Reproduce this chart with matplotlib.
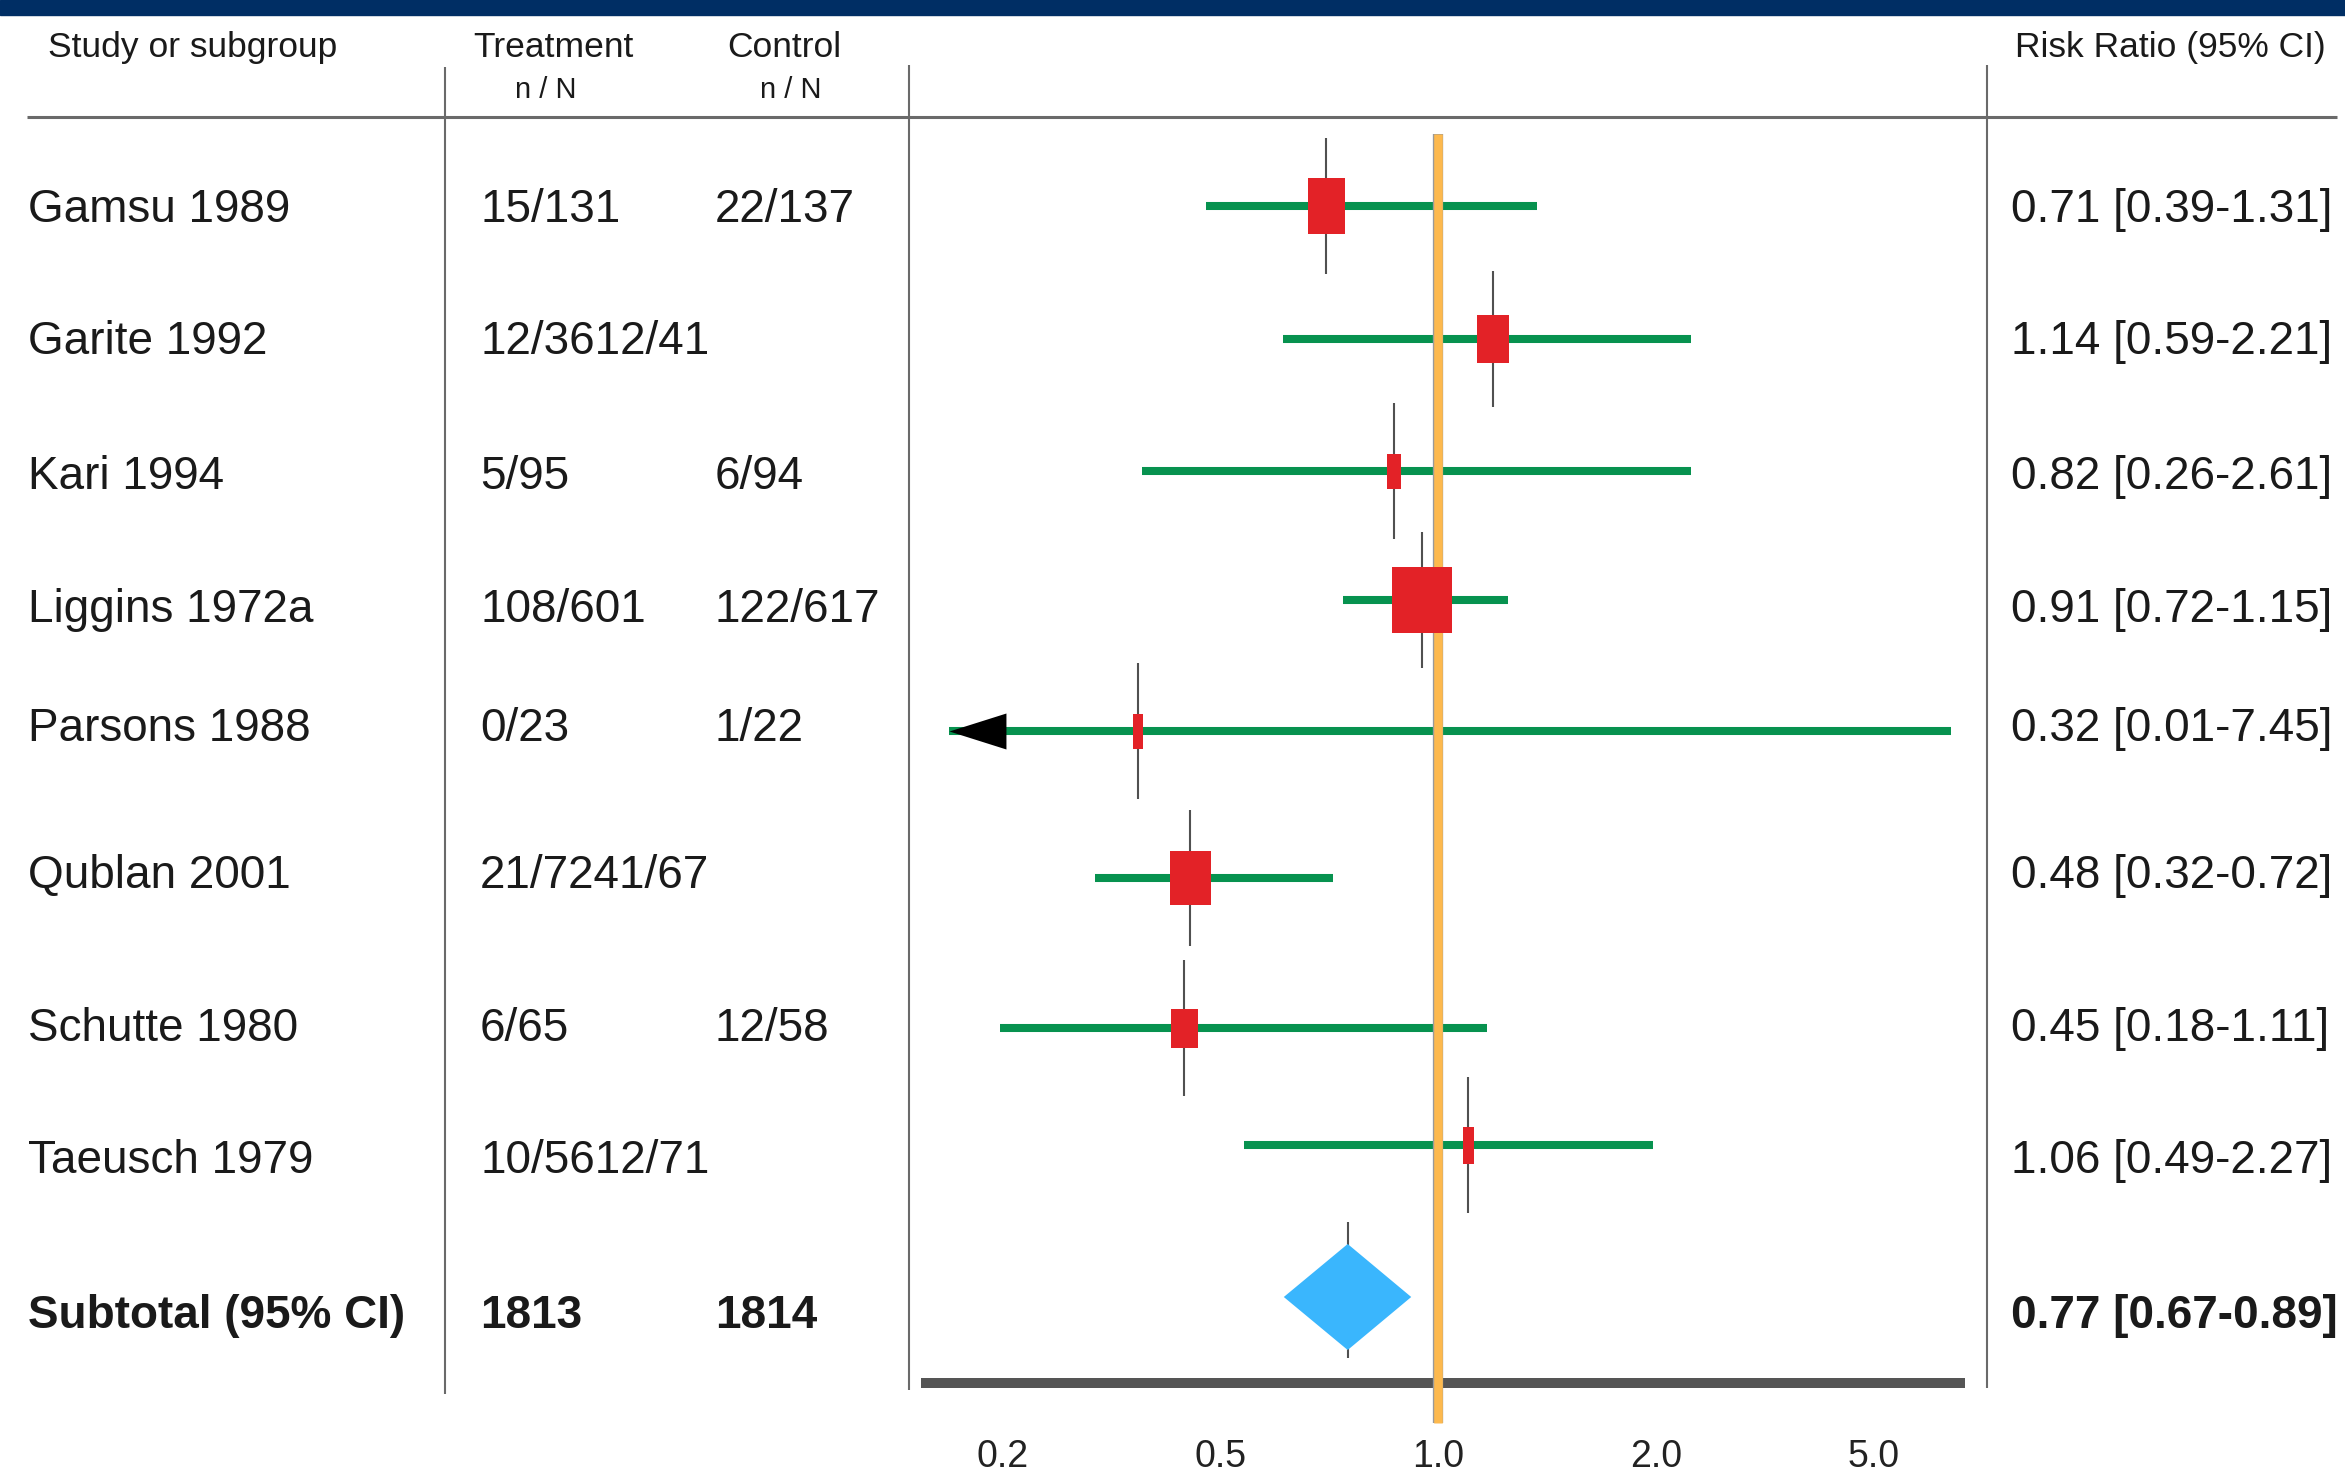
import numpy as np
import matplotlib.pyplot as plt
from matplotlib.path import Path
from matplotlib.ticker import NullLocator

plt.rcParams['font.family'] = ['Liberation Sans', 'DejaVu Sans']

# table columns
studies = ["Gamsu 1989", "Garite 1992", "Kari 1994", "Liggins 1972a",
           "Parsons 1988", "Qublan 2001", "Schutte 1980", "Taeusch 1979"]
treatment = ["15/131", "12/36", "5/95", "108/601", "0/23", "21/72", "6/65", "10/56"]
control = ["22/137", "12/41", "6/94", "122/617", "1/22", "41/67", "12/58", "12/71"]
rr_text = ["0.71 [0.39-1.31]", "1.14 [0.59-2.21]", "0.82 [0.26-2.61]",
           "0.91 [0.72-1.15]", "0.32 [0.01-7.45]", "0.48 [0.32-0.72]",
           "0.45 [0.18-1.11]", "1.06 [0.49-2.27]"]

# risk ratios as drawn on the plot scale
rr_est = [0.70, 1.19, 0.87, 0.95, 0.354, 0.44, 0.43, 1.10]
rr_low = [0.47, 0.61, 0.36, 0.74, 0.01, 0.295, 0.198, 0.54]
rr_high = [1.37, 2.32, 2.32, 1.25, 6.93, 0.716, 1.17, 1.98]

sub_label = "Subtotal (95% CI)"
sub_treat = "1813"
sub_ctrl = "1814"
sub_text = "0.77 [0.67-0.89]"
sub_est, sub_low, sub_high = 0.75, 0.612, 0.918

tick_vals = [0.2, 0.5, 1.0, 2.0, 5.0]
tick_labels = ["0.2", "0.5", "1.0", "2.0", "5.0"]

# layout (figure pixels, y downwards)
W, H = 2345, 1474
row_y = [206, 339, 471, 600, 731, 878, 1028, 1145]
text_y = [206, 338, 473, 606, 725, 872, 1025, 1157]
sub_y = 1297
sub_text_y = 1312
box_w = [37, 32, 14, 60, 10, 41, 27, 11]
box_h = [56, 48, 35, 67, 35, 54, 39, 37]
joined = [False, True, False, False, False, True, False, True]
arrow_at = 0.16

GREEN = '#07924f'
RED = '#e32227'
BLUE = '#3ab6fd'
ORANGE = '#fdb94e'
TXT = '#1a1a1a'
LINE = '#6a6a6a'

# the axis puts the ticks 0.2, 0.5, 1, 2, 5 at equal steps
lt = np.log(tick_vals)
steps = np.arange(len(tick_vals), dtype=float)


def fwd(x):
    x = np.atleast_1d(np.asarray(x, dtype=float))
    lx = np.log(np.clip(x, 1e-9, None))
    out = np.interp(lx, lt, steps)
    lo = lx < lt[0]
    out[lo] = (lx[lo] - lt[0]) / (lt[1] - lt[0])
    hi = lx > lt[-1]
    out[hi] = steps[-1] + (lx[hi] - lt[-1]) / (lt[-1] - lt[-2])
    return out


def inv(i):
    i = np.atleast_1d(np.asarray(i, dtype=float))
    out = np.interp(i, steps, lt)
    lo = i < 0
    out[lo] = lt[0] + i[lo] * (lt[1] - lt[0])
    hi = i > steps[-1]
    out[hi] = lt[-1] + (i[hi] - steps[-1]) * (lt[-1] - lt[-2])
    return np.exp(out)


def box_marker(w, h):
    m = max(w, h)
    a, b = w / m, h / m
    return Path([(-a, -b), (a, -b), (a, b), (-a, b), (-a, -b)],
                [Path.MOVETO, Path.LINETO, Path.LINETO, Path.LINETO, Path.CLOSEPOLY])


arrow_marker = Path([(0, 0), (1, 0.316), (1, -0.316), (0, 0)],
                    [Path.MOVETO, Path.LINETO, Path.LINETO, Path.CLOSEPOLY])

fig = plt.figure(figsize=(W / 100, H / 100), dpi=100)

# background axes in pixel units for the table
bg = fig.add_axes([0, 0, 1, 1])
bg.set_xlim(0, W)
bg.set_ylim(H, 0)
bg.axis('off')

bg.axhspan(0, 15, color='#002e64')
bg.hlines(117, 27, 2337, color=LINE, lw=2.2)
bg.vlines([444.5, 909, 1987], [67, 65, 65], [1394, 1390, 1388], color=LINE, lw=1.5)

bg.text(48, 57, "Study or subgroup", fontsize=25.5, color=TXT, va='baseline')
bg.text(553, 57, "Treatment", fontsize=25.5, color=TXT, ha='center', va='baseline')
bg.text(784, 57, "Control", fontsize=25.5, color=TXT, ha='center', va='baseline')
bg.text(546, 98, "n / N", fontsize=21, color=TXT, ha='center', va='baseline')
bg.text(791, 98, "n / N", fontsize=21, color=TXT, ha='center', va='baseline')
bg.text(2015, 57, "Risk Ratio (95% CI)", fontsize=25.5, color=TXT, va='baseline')

for i, y in enumerate(text_y):
    base = y + 16
    bg.text(28, base, studies[i], fontsize=33, color=TXT, va='baseline')
    if joined[i]:
        bg.text(480, base, treatment[i] + control[i], fontsize=33, color=TXT, va='baseline')
    else:
        bg.text(480, base, treatment[i], fontsize=33, color=TXT, va='baseline')
        bg.text(715, base, control[i], fontsize=33, color=TXT, va='baseline')
    bg.text(2011, base, rr_text[i], fontsize=33, color=TXT, va='baseline')

base = sub_text_y + 16
bg.text(28, base, sub_label, fontsize=33, color=TXT, va='baseline', fontweight='bold')
bg.text(480, base, sub_treat, fontsize=33, color=TXT, va='baseline', fontweight='bold')
bg.text(715, base, sub_ctrl, fontsize=33, color=TXT, va='baseline', fontweight='bold')
bg.text(2011, base, sub_text, fontsize=33, color=TXT, va='baseline', fontweight='bold')

# forest plot axes between the two table rules
ax = fig.add_axes([909 / W, 0, (1987 - 909) / W, 1])
ax.set_xscale('function', functions=(fwd, inv))
ax.set_xlim(0.135, 8.05)
ax.set_ylim(H, 0)
ax.patch.set_visible(False)
for s in ['left', 'right', 'top']:
    ax.spines[s].set_visible(False)
ax.spines['bottom'].set_position(('data', 1383))
ax.spines['bottom'].set_bounds(0.145, 7.18)
ax.spines['bottom'].set_linewidth(7.2)
ax.spines['bottom'].set_color('#555555')
ax.set_yticks([])
ax.xaxis.set_minor_locator(NullLocator())
ax.set_xticks(tick_vals)
ax.set_xticklabels(tick_labels)
ax.tick_params(axis='x', length=0, pad=40, labelsize=27, labelcolor='#222222')

# line of no effect
ax.vlines(1.0, 134, 1423, colors='#9a9a9a', lw=7.4, zorder=3)
ax.vlines(1.0, 134, 1423, colors=ORANGE, lw=6.2, zorder=3.1)

for i, y in enumerate(row_y):
    lo = max(rr_low[i], arrow_at)
    ax.hlines(y, lo, rr_high[i], color=GREEN, lw=5.8, zorder=2)
    if rr_low[i] < arrow_at:
        ax.plot(arrow_at, y, marker=arrow_marker, ms=82, color='black', mew=0, zorder=4)
    ax.vlines(rr_est[i], y - 68, y + 68, color='#505050', lw=1.5, zorder=2.5)
    ax.plot(rr_est[i], y, marker=box_marker(box_w[i], box_h[i]),
            ms=max(box_w[i], box_h[i]) * 0.72, color=RED, mew=0, zorder=5)

# pooled estimate
ax.vlines(sub_est, sub_y - 75, sub_y + 61, color='#505050', lw=1.5, zorder=2.5)
ax.fill([sub_low, sub_est, sub_high, sub_est],
        [sub_y, sub_y - 53, sub_y, sub_y + 53], color=BLUE, lw=0, zorder=5)

fig.savefig('out.png', dpi=100)
